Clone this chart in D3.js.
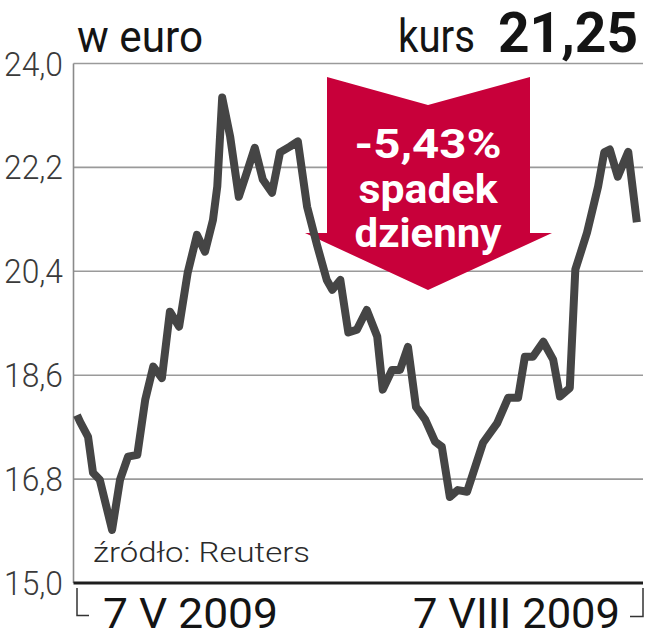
<!DOCTYPE html>
<html>
<head>
<meta charset="utf-8">
<script src="https://cdn.jsdelivr.net/npm/d3@7"></script>
<style>
  html, body { margin: 0; padding: 0; background: #fff; }
  svg { display: block; }
</style>
</head>
<body>
<div id="chart"></div>
<script>
// ---- data ----
// day offsets from 7 V 2009 (0) to 7 VIII 2009 (92)
const days = [0, 0.5, 1.8, 2.6, 3.7, 5.7, 7.0, 8.3, 9.8, 11.1, 12.4, 13.8, 15.1, 16.6, 18.0, 19.5,
  20.8, 22.1, 22.8, 23.6, 24.9, 26.3, 27.6, 28.9, 30.2, 31.7, 33.0, 34.6, 35.9, 37.4, 39.0, 40.6,
  41.5, 42.8, 44.1, 45.5, 47.1, 48.8, 49.7, 51.2, 52.5, 53.8, 55.1, 56.6, 58.2, 59.3, 60.6, 61.9,
  63.4, 66.0, 68.3, 70.1, 71.7, 72.8, 74.1, 75.8, 77.4, 78.5, 80.1, 81.0, 82.9, 84.7, 85.7, 86.6,
  87.9, 89.6, 91.0];
const prices = [17.91, 17.79, 17.53, 16.91, 16.79, 15.92, 16.79, 17.19, 17.22, 18.18, 18.75, 18.55,
  19.70, 19.44, 20.38, 21.03, 20.74, 21.29, 21.87, 23.41, 22.73, 21.69, 22.11, 22.54, 21.99, 21.76,
  22.46, 22.56, 22.65, 21.52, 20.86, 20.25, 20.08, 20.25, 19.34, 19.39, 19.73, 19.27, 18.35, 18.69,
  18.69, 19.09, 18.05, 17.83, 17.45, 17.36, 16.49, 16.61, 16.58, 17.43, 17.77, 18.21, 18.21, 18.92,
  18.92, 19.18, 18.87, 18.23, 18.38, 20.43, 21.07, 21.87, 22.46, 22.51, 22.04, 22.47, 21.25];
const yTicks = [15.0, 16.8, 18.6, 20.4, 22.2, 24.0];
const yTickLabels = ["15,0", "16,8", "18,6", "20,4", "22,2", "24,0"];
const xLabels = ["7 V 2009", "7 VIII 2009"];
const titleLeft = "w euro";
const titleKurs = "kurs";
const titleValue = "21,25";
const arrowLines = ["-5,43%", "spadek", "dzienny"];
const sourceText = "źródło: Reuters";

// ---- drawing ----
const W = 645, H = 640;
const svg = d3.select("#chart").append("svg").attr("width", W).attr("height", H);

const x = d3.scaleLinear().domain([0, 92]).range([77, 643]);
const y = d3.scaleLinear().domain([15, 24]).range([583, 63.5]);
const plotLeft = 73.5, plotRight = 643;

// gridlines
svg.append("g").selectAll("line").data(yTicks.filter(v => v > 15)).join("line")
  .attr("x1", plotLeft).attr("x2", plotRight)
  .attr("y1", d => y(d)).attr("y2", d => y(d))
  .attr("stroke", "#9a9a9a").attr("stroke-width", 1.6);

// left axis line
svg.append("line").attr("x1", plotLeft).attr("x2", plotLeft)
  .attr("y1", y(24)).attr("y2", y(15))
  .attr("stroke", "#8a8a8a").attr("stroke-width", 1.6);

// y tick labels
svg.append("g").selectAll("text").data(yTicks).join("text")
  .attr("x", 63).attr("y", d => y(d) + 12)
  .attr("text-anchor", "end")
  .attr("font-family", "Roboto, 'Liberation Sans', sans-serif")
  .attr("font-weight", 300)
  .attr("font-size", 34)
  .attr("fill", "#3a3a3a")
  .attr("textLength", 59).attr("lengthAdjust", "spacingAndGlyphs")
  .text((d, i) => yTickLabels[i]);

// red arrow (annotation)
const ax = 428;
const arrowPts = [[327, 77], [ax, 105], [530, 77], [530, 233], [552, 233], [ax, 290], [305, 233], [327, 233]];
svg.append("path")
  .attr("d", d3.line()(arrowPts) + "Z")
  .attr("fill", "#c8003a");

const arrowSpec = [
  { y: 158, size: 40, len: 147 },
  { y: 203, size: 40, len: 139 },
  { y: 247, size: 40, len: 147 }
];
svg.append("g").selectAll("text").data(arrowLines).join("text")
  .attr("x", ax).attr("y", (d, i) => arrowSpec[i].y)
  .attr("text-anchor", "middle")
  .attr("font-family", "Roboto, 'Liberation Sans', sans-serif")
  .attr("font-weight", 700)
  .attr("font-size", (d, i) => arrowSpec[i].size)
  .attr("fill", "#ffffff")
  .attr("textLength", (d, i) => arrowSpec[i].len).attr("lengthAdjust", "spacingAndGlyphs")
  .text(d => d);

// price line
const series = days.map((d, i) => ({ d, v: prices[i] }));
svg.append("path")
  .datum(series)
  .attr("d", d3.line().x(p => x(p.d)).y(p => y(p.v)))
  .attr("fill", "none")
  .attr("stroke", "#454545")
  .attr("stroke-width", 8)
  .attr("stroke-linejoin", "round")
  .attr("stroke-linecap", "butt");

// bottom axis line
svg.append("line").attr("x1", plotLeft).attr("x2", plotRight)
  .attr("y1", y(15)).attr("y2", y(15))
  .attr("stroke", "#1e1e1e").attr("stroke-width", 3);

// bottom brackets
const bx0 = x(0), bx1 = x(92);
svg.append("path")
  .attr("d", `M${bx0},588 V615.5 H${bx0 + 12}`)
  .attr("fill", "none").attr("stroke", "#333").attr("stroke-width", 1.5);
svg.append("path")
  .attr("d", `M${bx1},588 V616.5 H${bx1 - 13}`)
  .attr("fill", "none").attr("stroke", "#333").attr("stroke-width", 1.5);

// x labels
svg.append("text").attr("x", 103).attr("y", 628)
  .attr("font-family", "Roboto, 'Liberation Sans', sans-serif")
  .attr("font-size", 42).attr("fill", "#141414")
  .attr("textLength", 175).attr("lengthAdjust", "spacingAndGlyphs")
  .text(xLabels[0]);
svg.append("text").attr("x", 413).attr("y", 628)
  .attr("font-family", "Roboto, 'Liberation Sans', sans-serif")
  .attr("font-size", 42).attr("fill", "#141414")
  .attr("textLength", 207).attr("lengthAdjust", "spacingAndGlyphs")
  .text(xLabels[1]);

// titles
svg.append("text").attr("x", 77).attr("y", 52)
  .attr("font-family", "Roboto, 'Liberation Sans', sans-serif")
  .attr("font-size", 45).attr("fill", "#141414")
  .attr("textLength", 126).attr("lengthAdjust", "spacingAndGlyphs")
  .text(titleLeft);
svg.append("text").attr("x", 398).attr("y", 52)
  .attr("font-family", "Roboto, 'Liberation Sans', sans-serif")
  .attr("font-size", 47).attr("fill", "#141414")
  .attr("textLength", 77).attr("lengthAdjust", "spacingAndGlyphs")
  .text(titleKurs);
svg.append("text").attr("x", 498).attr("y", 52)
  .attr("font-family", "Roboto, 'Liberation Sans', sans-serif")
  .attr("font-weight", 700)
  .attr("font-size", 56).attr("fill", "#141414")
  .attr("textLength", 140).attr("lengthAdjust", "spacingAndGlyphs")
  .text(titleValue);

// source
svg.append("text").attr("x", 93).attr("y", 562)
  .attr("font-family", "Roboto, 'Liberation Sans', sans-serif")
  .attr("font-weight", 300)
  .attr("font-size", 27).attr("fill", "#2a2a2a")
  .attr("textLength", 217).attr("lengthAdjust", "spacingAndGlyphs")
  .text(sourceText);
</script>
</body>
</html>
